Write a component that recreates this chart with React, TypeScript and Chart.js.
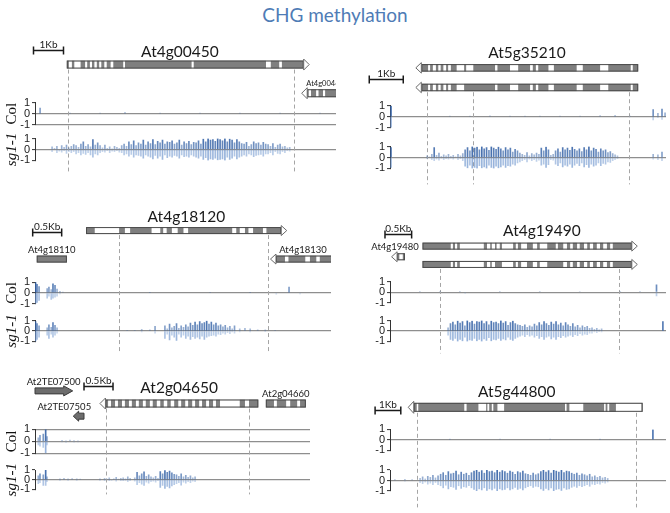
import React, { useEffect, useRef } from 'react';
import { Chart, registerables } from 'chart.js';

Chart.register(...registerables);

// ===================== DATA (x positions in kb from the left edge of each track) =====================

// ---- Panel 1: At4g00450 ----
const W_At4g00450 = [[1.13, 1.23], [1.31, 1.52], [1.67, 1.74], [1.83, 1.9], [1.98, 2.06], [2.14, 2.21], [2.31, 2.39], [2.52, 2.61], [2.94, 3.0], [5.22, 5.29], [7.7, 7.86], [8.14, 8.23]];
const W_At4g00460 = [[9.12, 9.2], [9.37, 9.45], [9.6, 9.67]];
const P1_DASHES = [1.09, 8.63];
const P1_COL_X = [0.17, 1.17, 2.17, 3.0, 4.17, 5.5, 6.83, 8.17, 9.5];
const P1_COL_UP = [0.5, 0.05, 0.04, 0.12, 0.05, 0.04, 0.05, 0.04, 0.05];
const P1_COL_DN = [0, 0, 0, 0, 0, 0, 0, 0, 0];
const P1_SG_START = 0.57;
const P1_SG_STEP = 0.08;
const P1_SG_UP = [
  0.25, 0.1, 0.3, 0, 0.35, 0.2, 0.4, 0.15, 0.3, 0.45,
  0.35, 0.2, 0.5, 0.7, 0.3, 0.45, 0.25, 0.9, 0.4, 0.6,
  0.35, 0.15, 0.4, 0.1, 0.25, 0.05, 0.3, 0.2, 0.1, 0.35,
  0.5, 0.3, 0.7, 0.45, 0.8, 0.35, 0.6, 0.5, 0.85, 0.4,
  0.7, 0.55, 0.9, 0.45, 0.75, 0.6, 0.85, 0.5, 0.7, 0.65,
  0.8, 0.5, 0.6, 0.85, 0.4, 0.7, 0.55, 0.75, 0.45, 0.65,
  0.6, 0.8, 0.5, 0.95, 0.7, 1, 0.85, 0.9, 0.75, 1,
  0.9, 0.8, 1, 0.7, 0.95, 0.85, 0.6, 0.9, 0.7, 0.55,
  0.5, 0.65, 0.3, 0.45, 0.7, 0.55, 0.6, 0.4, 0.65, 0.5,
  0.45, 0.3, 0.55, 0.2, 0.4, 0.5, 0.25, 0.3, 0.15, 0.2,
];
const P1_SG_DN = [
  -0.2, 0, -0.3, -0.15, -0.25, -0.1, -0.35, -0.2, -0.3, -0.2,
  -0.4, -0.3, -0.5, -0.35, -0.45, -0.3, -0.5, -0.7, -0.4, -0.5,
  -0.3, -0.2, -0.25, -0.1, -0.3, -0.15, -0.2, -0.1, -0.25, -0.3,
  -0.5, -0.4, -0.6, -0.45, -0.7, -0.5, -0.55, -0.6, -0.8, -0.5,
  -0.6, -0.7, -0.85, -0.55, -0.8, -0.6, -0.9, -0.5, -0.75, -0.6,
  -0.7, -0.55, -0.6, -0.8, -0.5, -0.65, -0.6, -0.7, -0.5, -0.6,
  -0.7, -0.8, -0.6, -0.9, -0.75, -1, -0.85, -0.9, -0.8, -0.95,
  -0.9, -0.85, -1, -0.7, -0.9, -0.8, -0.6, -0.85, -0.7, -0.6,
  -0.5, -0.6, -0.4, -0.5, -0.65, -0.55, -0.5, -0.45, -0.6, -0.4,
  -0.4, -0.3, -0.5, -0.2, -0.35, -0.4, -0.2, -0.3, -0.1, -0.15,
];

// ---- Panel 2: At5g35210 ----
const W_At5g35210_a = [[1.12, 1.18], [1.26, 1.35], [1.42, 1.49], [1.57, 1.65], [1.71, 1.79], [1.96, 2.18], [2.24, 2.45], [3.09, 3.16], [3.53, 3.77], [4.12, 4.2], [4.29, 4.36], [4.66, 4.82], [5.49, 5.67], [6.18, 6.42], [7.08, 7.14]];
const W_At5g35210_b = [[1.12, 1.18], [1.26, 1.35], [1.42, 1.49], [1.57, 1.65], [1.71, 1.79], [1.96, 2.18], [3.09, 3.16], [3.53, 3.77], [4.12, 4.2], [4.29, 4.36], [4.66, 4.82], [5.49, 5.67], [6.18, 6.42], [7.08, 7.14]];
const P2_DASHES = [1.1, 2.45, 7.02];
const P2_COL_X = [0.03, 1.76, 2.35, 2.94, 3.53, 3.97, 4.41, 5.0, 5.59, 6.18, 6.62, 7.06, 7.74, 7.88, 8.0, 8.09];
const P2_COL_UP = [1, 0.05, 0.04, 0.08, 0.06, 0.04, 0.05, 0.06, 0.05, 0.1, 0.12, 0.05, 0.65, 0.3, 0.7, 0.35];
const P2_COL_DN = [-1, 0, 0, 0, 0, 0, 0, 0, 0, 0, 0, 0, -0.3, -0.1, -0.25, 0];
const P2_SG_X = [0.03, 7.74, 7.88, 8.0];
const P2_SG_XUP = [0.9, 0.3, 0.25, 0.5];
const P2_SG_XDN = [-0.9, -0.15, -0.2, -0.3];
const P2_SG_START = 1.09;
const P2_SG_STEP = 0.07;
const P2_SG_UP = [
  0.15, 0.05, 0.3, 0.9, 0.2, 0.4, 0.1, 0.25, 0.15, 0.3,
  0.1, 0.2, 0.05, 0.3, 0.15, 0.35,
  0.7, 0.9, 0.6, 1, 0.85, 0.95, 0.7, 1, 0.8, 0.9,
  0.65, 1, 0.85, 0.75, 0.95, 0.8, 0.6, 0.9, 0.7, 0.85,
  0.5, 0.75, 0.6, 0.4,
  0.3, 0.2, 0.45, 0.15, 0.35, 0.25, 0.4, 0.3,
  0.85, 0.6, 0.95, 0.7,
  0.2, 0.3,
  0.6, 0.8, 0.5, 0.9, 0.7, 0.85, 0.65, 0.95, 0.75, 0.6,
  0.8, 0.55, 0.9, 0.7, 1, 0.6, 0.85, 0.75, 0.5, 0.8,
  0.6, 0.7, 0.45, 0.55, 0.35, 0.25, 0.15,
];
const P2_SG_DN = [
  -0.1, 0, -0.2, -0.3, -0.15, -0.25, -0.05, -0.2, -0.1, -0.15,
  -0.05, -0.15, 0, -0.2, -0.1, -0.3,
  -0.8, -0.95, -0.7, -1, -0.9, -1, -0.75, -0.95, -0.85, -1,
  -0.7, -0.9, -1, -0.8, -0.95, -0.85, -0.7, -0.9, -0.75, -0.8,
  -0.6, -0.7, -0.5, -0.4,
  -0.3, -0.2, -0.4, -0.15, -0.3, -0.2, -0.35, -0.25,
  -0.7, -0.6, -0.9, -0.65,
  -0.2, -0.25,
  -0.6, -0.75, -0.5, -0.85, -0.7, -0.8, -0.6, -0.9, -0.7, -0.55,
  -0.75, -0.5, -0.85, -0.65, -0.9, -0.6, -0.8, -0.7, -0.5, -0.75,
  -0.55, -0.6, -0.4, -0.45, -0.3, -0.2, -0.1,
];

// ---- Panel 3: At4g18120 ----
const W_At4g18120 = [[1.03, 1.45], [1.55, 1.64], [2.01, 2.16], [2.21, 2.27], [2.36, 2.46], [2.56, 2.64], [3.4, 3.47], [3.53, 3.62], [3.68, 3.76], [3.93, 3.99]];
const W_At4g18130 = [[4.31, 4.37], [4.66, 4.74], [4.85, 4.91]];
const P3_DASHES = [1.45, 4.02];
const P3_COL_X = [0.01, 0.035, 0.07, 0.21, 0.24, 0.28, 0.31, 0.345, 0.38, 0.43, 0.48, 1.98, 3.02, 3.71, 4.16, 4.38, 4.57];
const P3_COL_UP = [1, 0.8, 0.6, 0.4, 0.55, 0.3, 0.85, 0.7, 0.35, 0.15, 0.08, 0.03, 0.04, 0.03, 0, 0.55, 0];
const P3_COL_DN = [-1, -0.9, -0.7, -0.5, -0.3, -0.6, -0.5, -0.4, -0.3, -0.1, 0, 0, 0, 0, -0.12, 0, -0.1];
const P3_SG_X = [0.01, 0.035, 0.07, 0.21, 0.24, 0.28, 0.31, 0.345, 0.38, 1.59, 1.72, 1.84, 1.98, 2.07, 3.53, 3.62, 3.71, 3.84, 3.97, 4.14];
const P3_SG_XUP = [0.9, 0.7, 0.5, 0.3, 0.6, 0.35, 0.8, 0.55, 0.3, 0.05, 0.05, 0.15, 0.1, 0.45, 0.2, 0.25, 0.2, 0.1, 0.1, 0.05];
const P3_SG_XDN = [-1, -0.8, -0.6, -0.4, -0.7, -0.3, -0.6, -0.4, -0.2, 0, 0, -0.1, 0, -0.2, -0.1, 0, -0.1, 0, -0.05, 0];
const P3_SG_START = 2.24;
const P3_SG_STEP = 0.04;
const P3_SG_UP = [0.5, 0.2, 0.65, 0.3, 0.45, 0.7, 0.25, 0.5, 0.35, 0.6, 0.4, 0.75, 0.55, 0.85, 0.6, 0.9, 0.7, 0.8, 0.95, 0.65, 0.85, 0.6, 0.75, 0.5, 0.6, 0.4, 0.55, 0.3, 0.45, 0.2, 0.5];
const P3_SG_DN = [-0.7, -0.3, -0.85, -0.4, -0.6, -0.9, -0.3, -0.6, -0.4, -0.7, -0.5, -0.8, -0.55, -0.7, -0.6, -0.75, -0.5, -0.8, -0.6, -0.5, -0.45, -0.4, -0.5, -0.3, -0.35, -0.2, -0.3, -0.15, -0.25, -0.1, -0.2];

// ---- Panel 4: At4g19490 ----
const W_At4g19490_a = [[1.14, 1.18], [1.22, 1.26], [1.31, 1.76], [1.82, 1.88], [1.91, 1.97], [2.0, 2.06], [2.1, 2.31], [2.36, 2.4], [2.46, 2.57], [2.68, 2.76], [2.81, 2.95], [3.11, 3.15], [3.25, 3.32], [3.38, 3.43], [3.51, 3.56], [3.64, 3.7], [3.75, 3.81], [3.88, 3.94], [4.0, 4.07], [4.13, 4.18]];
const W_At4g19490_b = [[1.14, 1.18], [1.22, 1.26], [1.31, 1.76], [1.82, 1.88], [1.91, 1.97], [2.1, 2.31], [2.36, 2.4], [2.46, 2.57], [2.68, 2.76], [2.81, 2.95], [3.25, 3.32], [3.38, 3.43], [3.51, 3.56], [3.64, 3.7], [3.75, 3.81], [3.88, 3.94], [4.0, 4.07], [4.13, 4.18]];
const W_At4g19480 = [[0.175, 0.24]];
const P4_DASHES = [0.94, 4.3];
const P4_COL_X = [0.56, 0.94, 1.31, 1.41, 2.06, 2.81, 3.56, 4.32, 4.69, 5.0];
const P4_COL_UP = [0.05, 0.04, 0.08, 0, 0.05, 0.04, 0.06, 0.04, 0.05, 0.7];
const P4_COL_DN = [0, 0, 0, -0.1, 0, 0, 0, 0, 0, -0.35];
const P4_SG_X = [5.12];
const P4_SG_XUP = [0.9];
const P4_SG_XDN = [0];
const P4_SG_START = 1.09;
const P4_SG_STEP = 0.045;
const P4_SG_UP = [
  0.3, 0.7, 0.85, 0.6, 0.95, 0.75, 0.9, 0.5, 1, 0.8,
  0.95, 0.65, 0.9, 0.85, 1, 0.7, 0.9, 0.6, 0.95, 0.8,
  0.85, 0.7, 1, 0.75, 0.9, 0.55, 0.8, 0.95, 0.7, 0.6,
  0.55, 0.45, 0.6, 0.35, 0.5, 0.4, 0.65, 0.5,
  0.8, 0.6, 0.9, 0.7, 0.55, 0.85, 0.65, 0.9, 0.6, 0.75,
  0.5, 0.8, 0.6, 0.45, 0.7,
  0.4, 0.55, 0.3, 0.5, 0.35, 0.45, 0.25,
  0.3, 0.15, 0.25, 0.1, 0.2,
];
const P4_SG_DN = [
  -0.4, -0.8, -0.9, -0.7, -1, -0.8, -0.95, -0.6, -1, -0.85,
  -0.9, -0.7, -0.95, -0.8, -1, -0.75, -0.9, -0.65, -0.95, -0.8,
  -0.85, -0.7, -0.9, -0.75, -0.85, -0.6, -0.8, -0.9, -0.7, -0.6,
  -0.5, -0.4, -0.55, -0.35, -0.5, -0.4, -0.6, -0.45,
  -0.7, -0.55, -0.8, -0.6, -0.5, -0.75, -0.6, -0.8, -0.55, -0.65,
  -0.45, -0.6, -0.5, -0.4, -0.55,
  -0.35, -0.45, -0.25, -0.4, -0.3, -0.35, -0.2,
  -0.2, -0.1, -0.15, -0.05, -0.1,
];

// ---- Panel 5: At2g04650 ----
const W_At2g04650 = [[1.26, 1.31], [1.38, 1.43], [1.5, 1.55], [1.62, 1.67], [1.74, 1.79], [1.86, 1.91], [1.98, 2.03], [2.1, 2.16], [2.22, 2.28], [2.34, 2.4], [2.47, 2.52], [2.59, 2.64], [2.71, 2.76], [2.83, 2.88], [2.95, 3.0], [3.07, 3.12], [3.19, 3.53], [3.62, 3.69]];
const W_At2g04660 = [[4.12, 4.17], [4.33, 4.4], [4.52, 4.57]];
const P5_DASHES = [1.22, 3.69];
const P5_COL_X = [0.057, 0.086, 0.143, 0.184, 0.207, 0.466, 0.534, 0.603, 0.672, 0.741];
const P5_COL_UP = [0.3, 0.5, 0.6, 1, 0.4, 0.08, 0.05, 0.1, 0.06, 0.05];
const P5_COL_DN = [-0.3, -0.4, -0.5, -1, -0.3, -0.05, -0.08, 0, -0.06, -0.04];
const P5_SG_X = [0.057, 0.086, 0.143, 0.184, 0.207, 0.43, 0.5, 0.57, 0.64, 0.72, 0.78];
const P5_SG_XUP = [0.4, 0.6, 0.5, 1, 0.3, 0.1, 0.15, 0.08, 0.12, 0.1, 0.05];
const P5_SG_XDN = [-0.4, -0.3, -0.6, -0.6, -0.2, -0.05, 0, -0.05, 0, -0.03, 0];
const P5_SG_START = 1.12;
const P5_SG_STEP = 0.04;
const P5_SG_UP = [
  0.1, 0, 0.15, 0.05, 0.2, 0, 0.1, 0.25, 0.05, 0.15,
  0.2, 0.1, 0.3, 0.15, 0, 0.2,
  0.75, 0.4, 0.6, 0.8, 0.35, 0.5,
  0.3, 0.2, 0.35, 0.15,
  0.85, 0.6, 0.95, 0.75, 0.9, 0.7, 0.55,
  0.5, 0.35, 0.6, 0.3, 0.45,
  0.25, 0.4, 0.2, 0.3,
];
const P5_SG_DN = [
  -0.05, 0, -0.1, 0, -0.1, -0.05, 0, -0.15, 0, -0.1,
  -0.1, -0.05, -0.2, -0.1, 0, -0.15,
  -0.5, -0.3, -0.45, -0.6, -0.25, -0.35,
  -0.2, -0.15, -0.25, -0.1,
  -0.8, -0.6, -0.9, -0.7, -0.85, -0.65, -0.5,
  -0.4, -0.3, -0.55, -0.25, -0.35,
  -0.2, -0.3, -0.15, -0.2,
];

// ---- Panel 6: At5g44800 ----
const W_At5g44800 = [[1.04, 1.1], [2.89, 2.98], [3.44, 3.74], [3.79, 3.86], [3.96, 4.02], [4.18, 4.44], [6.81, 6.87], [6.98, 7.52], [8.33, 8.39], [8.46, 8.53], [8.79, 9.79]];
const P6_DASHES = [1.06, 9.56];
const P6_COL_X = [2.33, 4.28, 6.23, 8.17, 10.23];
const P6_COL_UP = [0.03, 0.04, 0.04, 0.03, 0.95];
const P6_COL_DN = [0, 0, 0, 0, 0];
const P6_SG_X = [0.19, 0.58, 0.86];
const P6_SG_XUP = [0.1, 0.12, 0.08];
const P6_SG_XDN = [0, -0.05, 0];
const P6_SG_START = 1.17;
const P6_SG_STEP = 0.1;
const P6_SG_UP = [
  0.2, 0.35, 0.15, 0.4, 0.3, 0.5, 0.25, 0.45,
  0.6, 0.75, 0.5, 0.85, 0.65, 0.7, 0.9, 0.55, 0.8, 0.6, 0.7, 0.5, 0.75,
  0.9, 1, 0.8, 0.95, 0.7, 1, 0.85, 0.9, 0.75, 1, 0.8, 0.95, 0.85, 0.7, 0.9, 0.8, 0.6, 0.85, 0.75, 0.9, 0.65,
  0.6, 0.5, 0.7, 0.55, 0.65,
  0.85, 1, 0.8, 0.95, 0.7, 1, 0.9, 0.8, 1, 0.75, 0.9, 0.85, 0.7,
  0.6, 0.7, 0.5, 0.65, 0.55, 0.45, 0.6,
  0.35, 0.45, 0.3, 0.4, 0.25, 0.3, 0.2,
];
const P6_SG_DN = [
  -0.2, -0.3, -0.15, -0.35, -0.25, -0.4, -0.2, -0.4,
  -0.5, -0.7, -0.45, -0.8, -0.6, -0.65, -0.85, -0.5, -0.75, -0.6, -0.65, -0.5, -0.7,
  -0.85, -1, -0.8, -0.9, -0.7, -0.95, -0.8, -0.9, -0.75, -1, -0.8, -0.9, -0.85, -0.7, -0.9, -0.8, -0.65, -0.85, -0.75, -0.9, -0.7,
  -0.6, -0.5, -0.65, -0.55, -0.6,
  -0.8, -0.95, -0.75, -0.9, -0.7, -1, -0.85, -0.8, -0.95, -0.7, -0.85, -0.8, -0.65,
  -0.55, -0.65, -0.5, -0.6, -0.5, -0.4, -0.55,
  -0.35, -0.4, -0.3, -0.35, -0.2, -0.25, -0.15,
];

// Genes: extents in kb (incl. arrow tip), strand, lane, white blocks
const P1_GENES = [
  { name: 'At4g00450', start: 1.06, end: 9.14, strand: '+', row: 0, whites: W_At4g00450, labelAt: 4.83 },
  { name: 'At4g00460', start: 8.89, end: 10.5, strand: '-', row: 1, whites: W_At4g00460, labelAt: 9.67 },
];
const P2_GENES = [
  { name: 'At5g35210', start: 0.76, end: 7.3, strand: '-', row: 0, whites: W_At5g35210_a },
  { name: 'At5g35210', start: 0.76, end: 7.3, strand: '-', row: 1, whites: W_At5g35210_b, noLabel: true },
];
const P3_GENES = [
  { name: 'At4g18120', start: 0.88, end: 4.34, strand: '+', row: 0, whites: W_At4g18120 },
  { name: 'At4g18110', start: 0.03, end: 0.55, strand: '', row: 1, whites: [] },
  { name: 'At4g18130', start: 4.06, end: 5.3, strand: '-', row: 1, whites: W_At4g18130, labelAt: 4.62 },
];
const P4_GENES = [
  { name: 'At4g19490', start: 0.61, end: 4.64, strand: '+', row: 0, whites: W_At4g19490_a, labelAt: 2.85 },
  { name: 'At4g19490', start: 0.61, end: 4.64, strand: '+', row: 1, whites: W_At4g19490_b, noLabel: true },
  { name: 'At4g19480', start: 0.03, end: 0.28, strand: '-', row: 0.58, whites: W_At4g19480, labelAt: 0.094 },
];
const P5_GENES = [
  { name: 'At2TE07500', start: 0.0, end: 0.65, strand: '+', row: 0, whites: [], kind: 'te', labelAt: 0.32 },
  { name: 'At2g04650', start: 1.12, end: 3.85, strand: '-', row: 1, whites: W_At2g04650 },
  { name: 'At2g04660', start: 3.98, end: 4.67, strand: '', row: 1, whites: W_At2g04660 },
  { name: 'At2TE07505', start: 0.66, end: 0.845, strand: '-', row: 2, whites: [], kind: 'te', labelAt: 0.505 },
];
const P6_GENES = [
  { name: 'At5g44800', start: 0.71, end: 9.83, strand: '-', row: 0, whites: W_At5g44800, labelAt: 4.93 },
];

// ===================== LAYOUT / STYLE =====================
const PAD_T = 10;
const PAD_B = 8;
const AXIS_W = 35;
const LABEL_SIZE: Record<string, number> = { At4g00460: 7.5 };

const PANELS = [
  {
    left: 0, top: 30, width: 336, pxKb: 30, seg: [73, 22, 14, 22, 11], geneMin: -1.205, geneMax: 1.33, boxH: 8, lblGap: 3.5,
    titles: true, main: 'At4g00450', colLines: [0, -1], genes: P1_GENES, dashes: P1_DASHES, dashRow: 0,
    scaleBar: { start: -0.05, len: 1, label: '1Kb', row: -0.51 },
    col: { x: P1_COL_X, up: P1_COL_UP, dn: P1_COL_DN },
    sg: { start: P1_SG_START, step: P1_SG_STEP, up: P1_SG_UP, dn: P1_SG_DN },
  },
  {
    left: 355, top: 30, width: 311, pxKb: 34, seg: [76, 22, 19, 22, 16], geneMin: -1.929, geneMax: 1.929, boxH: 7.5, lblGap: 6.5,
    titles: false, main: 'At5g35210', colLines: [0], genes: P2_GENES, dashes: P2_DASHES, dashRow: 1,
    scaleBar: { start: -0.61, len: 1, label: '1Kb', row: 0.59 },
    col: { x: P2_COL_X, up: P2_COL_UP, dn: P2_COL_DN },
    sg: { start: P2_SG_START, step: P2_SG_STEP, up: P2_SG_UP, dn: P2_SG_DN, x: P2_SG_X, xup: P2_SG_XUP, xdn: P2_SG_XDN },
  },
  {
    left: 0, top: 200, width: 331, pxKb: 58, seg: [82.5, 21.5, 17, 21, 10], geneMin: -1.073, geneMax: 1.811, boxH: 7, lblGap: 5,
    titles: true, main: 'At4g18120', colLines: [0], genes: P3_GENES, dashes: P3_DASHES, dashRow: 0,
    scaleBar: { start: -0.04, len: 0.5, label: '0.5Kb', row: 0.035 },
    col: { x: P3_COL_X, up: P3_COL_UP, dn: P3_COL_DN },
    sg: { start: P3_SG_START, step: P3_SG_STEP, up: P3_SG_UP, dn: P3_SG_DN, x: P3_SG_X, xup: P3_SG_XUP, xdn: P3_SG_XDN },
  },
  {
    left: 355, top: 200, width: 311, pxKb: 53.3, seg: [82, 21, 18, 21, 12], geneMin: -2.516, geneMax: 1.94, boxH: 7, lblGap: 7,
    titles: false, main: 'At4g19490', colLines: [0], genes: P4_GENES, dashes: P4_DASHES, dashRow: 1,
    scaleBar: { start: -0.094, len: 0.5, label: '0.5Kb', row: -0.65 },
    col: { x: P4_COL_X, up: P4_COL_UP, dn: P4_COL_DN },
    sg: { start: P4_SG_START, step: P4_SG_STEP, up: P4_SG_UP, dn: P4_SG_DN, x: P4_SG_X, xup: P4_SG_XUP, xdn: P4_SG_XDN },
  },
  {
    left: 0, top: 365, width: 310, pxKb: 58, seg: [64.7, 24, 16.8, 19.5, 5], geneMin: -2.047, geneMax: 3.047, boxH: 8, lblGap: 7,
    titles: true, main: 'At2g04650', colLines: [1, 0, -1], genes: P5_GENES, dashes: P5_DASHES, dashRow: 1,
    scaleBar: { start: 0.845, len: 0.5, label: '0.5Kb', row: -0.37 },
    col: { x: P5_COL_X, up: P5_COL_UP, dn: P5_COL_DN },
    sg: { start: P5_SG_START, step: P5_SG_STEP, up: P5_SG_UP, dn: P5_SG_DN, x: P5_SG_X, xup: P5_SG_XUP, xdn: P5_SG_XDN },
  },
  {
    left: 355, top: 365, width: 311, pxKb: 25.7, seg: [64.5, 21, 20, 21, 16.5], geneMin: -2.125, geneMax: 1.1, boxH: 9, lblGap: 6,
    titles: false, main: 'At5g44800', colLines: [0], genes: P6_GENES, dashes: P6_DASHES, dashRow: 0,
    scaleBar: { start: -0.58, len: 1, label: '1Kb', row: 0.11 },
    col: { x: P6_COL_X, up: P6_COL_UP, dn: P6_COL_DN },
    sg: { start: P6_SG_START, step: P6_SG_STEP, up: P6_SG_UP, dn: P6_SG_DN, x: P6_SG_X, xup: P6_SG_XUP, xdn: P6_SG_XDN },
  },
];

const SANS = 'Lato, "Open Sans", sans-serif';
const HEAD = 5.5;

// ===================== HELPERS =====================
function binPoints(start: number, step: number, ys: number[]) {
  const out: { x: number; y: number }[] = [];
  ys.forEach((y, i) => { if (y !== 0) out.push({ x: start + i * step, y }); });
  return out;
}
function listPoints(xs: number[] | undefined, ys: number[] | undefined) {
  const out: { x: number; y: number }[] = [];
  if (!xs || !ys) return out;
  xs.forEach((x, i) => { if (ys[i] !== 0) out.push({ x, y: ys[i] }); });
  return out;
}

const upColor = (c: any) => {
  const v = Math.min(1, Math.abs(c.raw ? c.raw.y : 0));
  return `rgba(52, 98, 166, ${(0.3 + 0.6 * v).toFixed(2)})`;
};
const dnColor = (c: any) => {
  const v = Math.min(1, Math.abs(c.raw ? c.raw.y : 0));
  return `rgba(105, 146, 204, ${(0.28 + 0.42 * v).toFixed(2)})`;
};

function barSet(data: any[], axis: string, color: any) {
  return {
    type: 'bar', data, xAxisID: 'x', yAxisID: axis, barThickness: 1, grouped: false,
    backgroundColor: color, borderWidth: 0,
  };
}

function trackAxis(title: string | null, italic: boolean, weight: number, lines: number[]) {
  return {
    type: 'linear', position: 'left', stack: 'panel', stackWeight: weight,
    min: -1, max: 1,
    afterFit: (s: any) => { s.width = AXIS_W; },
    ticks: { stepSize: 1, autoSkip: false, padding: 2, color: '#222', font: { family: '"Liberation Sans", Arial, sans-serif', size: 11 } },
    grid: {
      color: (c: any) => (c.tick && lines.includes(c.tick.value) ? '#8e8e8e' : 'rgba(0,0,0,0)'),
      lineWidth: 1.2, tickColor: '#333', tickLength: 3, tickWidth: 1, drawTicks: true,
    },
    border: { display: true, color: '#333', width: 1 },
    title: title
      ? { display: true, text: title, color: '#111', padding: { top: 3, bottom: 0 }, font: { family: '"Liberation Serif", "DejaVu Serif", serif', size: 15, style: italic ? 'italic' : 'normal' } }
      : { display: false },
  };
}
function spacer(weight: number) {
  return { type: 'linear', position: 'left', stack: 'panel', stackWeight: weight, display: false, min: 0, max: 1 };
}

function drawGene(ctx: CanvasRenderingContext2D, g: any, xs: any, gs: any, boxH: number) {
  const x0 = xs.getPixelForValue(g.start);
  const x1 = xs.getPixelForValue(g.end);
  const cy = gs.getPixelForValue(g.row);
  ctx.lineWidth = 1;
  ctx.setLineDash([]);
  if (g.kind === 'te') {
    const bh = 6, hh = 10, hw = Math.min(9, (x1 - x0) * 0.5);
    ctx.beginPath();
    if (g.strand === '+') {
      ctx.moveTo(x0, cy - bh / 2); ctx.lineTo(x1 - hw, cy - bh / 2); ctx.lineTo(x1 - hw, cy - hh / 2);
      ctx.lineTo(x1, cy); ctx.lineTo(x1 - hw, cy + hh / 2); ctx.lineTo(x1 - hw, cy + bh / 2); ctx.lineTo(x0, cy + bh / 2);
    } else {
      ctx.moveTo(x1, cy - bh / 2); ctx.lineTo(x0 + hw, cy - bh / 2); ctx.lineTo(x0 + hw, cy - hh / 2);
      ctx.lineTo(x0, cy); ctx.lineTo(x0 + hw, cy + hh / 2); ctx.lineTo(x0 + hw, cy + bh / 2); ctx.lineTo(x1, cy + bh / 2);
    }
    ctx.closePath();
    ctx.fillStyle = '#6d6d6d'; ctx.fill();
    ctx.strokeStyle = '#3a3a3a'; ctx.stroke();
    return;
  }
  let b0 = x0, b1 = x1;
  if (g.strand === '+') b1 = x1 - HEAD;
  if (g.strand === '-') b0 = x0 + HEAD;
  const top = cy - boxH / 2;
  ctx.fillStyle = '#7f7f7f';
  ctx.fillRect(b0, top, b1 - b0, boxH);
  ctx.fillStyle = '#ffffff';
  for (const w of g.whites) {
    const a = xs.getPixelForValue(w[0]);
    const b = xs.getPixelForValue(w[1]);
    ctx.fillRect(a, top, b - a, boxH);
  }
  ctx.strokeStyle = '#4a4a4a';
  ctx.strokeRect(b0 + 0.5, top + 0.5, b1 - b0 - 1, boxH - 1);
  if (g.strand) {
    const hh = boxH / 2 + 1.5;
    ctx.beginPath();
    if (g.strand === '+') { ctx.moveTo(b1, cy - hh); ctx.lineTo(x1, cy); ctx.lineTo(b1, cy + hh); }
    else { ctx.moveTo(b0, cy - hh); ctx.lineTo(x0, cy); ctx.lineTo(b0, cy + hh); }
    ctx.closePath();
    ctx.fillStyle = '#ffffff'; ctx.fill();
    ctx.strokeStyle = '#6a6a6a'; ctx.stroke();
  }
}

function makeOverlay(p: any) {
  return {
    id: 'geneOverlay',
    beforeDatasetsDraw(chart: any) {
      const { ctx, chartArea } = chart;
      const xs = chart.scales.x, gs = chart.scales.yGene;
      ctx.save();
      ctx.strokeStyle = '#a5a5a5'; ctx.lineWidth = 1; ctx.setLineDash([4, 3]);
      const y0 = gs.getPixelForValue(p.dashRow) + p.boxH / 2 + 1;
      for (const d of p.dashes) {
        const x = Math.round(xs.getPixelForValue(d)) + 0.5;
        ctx.beginPath(); ctx.moveTo(x, y0); ctx.lineTo(x, chartArea.bottom); ctx.stroke();
      }
      ctx.restore();
    },
    afterDraw(chart: any) {
      const { ctx } = chart;
      const xs = chart.scales.x, gs = chart.scales.yGene;
      ctx.save();
      for (const g of p.genes) drawGene(ctx, g, xs, gs, p.boxH);
      ctx.fillStyle = '#1a1a1a';
      ctx.textAlign = 'center';
      ctx.textBaseline = 'alphabetic';
      for (const g of p.genes) {
        if (g.noLabel) continue;
        const isMain = g.name === p.main;
        const size = LABEL_SIZE[g.name] || (isMain ? 15.5 : 9.5);
        ctx.font = `${size}px ${SANS}`;
        const lx = xs.getPixelForValue(g.labelAt !== undefined ? g.labelAt : (g.start + g.end) / 2);
        const cy = gs.getPixelForValue(g.row);
        const half = g.kind === 'te' ? 3 : p.boxH / 2;
        ctx.fillText(g.name, lx, cy - half - (isMain ? p.lblGap : 3));
      }
      // scale bar
      const sb = p.scaleBar;
      const xa = xs.getPixelForValue(sb.start), xb = xs.getPixelForValue(sb.start + sb.len);
      const y = Math.round(gs.getPixelForValue(sb.row)) + 0.5;
      ctx.strokeStyle = '#1a1a1a'; ctx.lineWidth = 1.5; ctx.setLineDash([]);
      ctx.beginPath();
      ctx.moveTo(xa, y); ctx.lineTo(xb, y);
      ctx.moveTo(xa, y - 4); ctx.lineTo(xa, y + 4);
      ctx.moveTo(xb, y - 4); ctx.lineTo(xb, y + 4);
      ctx.stroke();
      ctx.font = `10px ${SANS}`;
      ctx.fillText(sb.label, (xa + xb) / 2, y - 3);
      ctx.restore();
    },
  };
}

function makeConfig(p: any): any {
  const [gene, col, gap, sg, bot] = p.seg;
  const colUp = listPoints(p.col.x, p.col.up);
  const colDn = listPoints(p.col.x, p.col.dn);
  const sgUp = [...binPoints(p.sg.start, p.sg.step, p.sg.up), ...listPoints(p.sg.x, p.sg.xup)];
  const sgDn = [...binPoints(p.sg.start, p.sg.step, p.sg.dn), ...listPoints(p.sg.x, p.sg.xdn)];
  return {
    type: 'bar',
    data: {
      datasets: [
        barSet(colDn, 'yCol', dnColor),
        barSet(colUp, 'yCol', upColor),
        barSet(sgDn, 'ySg', dnColor),
        barSet(sgUp, 'ySg', upColor),
      ],
    },
    options: {
      animation: false,
      responsive: false,
      maintainAspectRatio: false,
      events: [],
      layout: { padding: { top: PAD_T, bottom: PAD_B, left: 0, right: 0 } },
      plugins: { legend: { display: false }, tooltip: { enabled: false }, title: { display: false } },
      scales: {
        x: { type: 'linear', min: 0, max: (p.width - AXIS_W) / p.pxKb, display: false, offset: false },
        yBot: spacer(bot),
        ySg: trackAxis(p.titles ? 'sg1-1' : null, true, sg, [0]),
        yGap: spacer(gap),
        yCol: trackAxis(p.titles ? 'Col' : null, false, col, p.colLines),
        yGene: { type: 'linear', position: 'left', stack: 'panel', stackWeight: gene, display: false, min: p.geneMin, max: p.geneMax, reverse: true },
      },
    },
    plugins: [makeOverlay(p)],
  };
}

export default function App() {
  const refs = useRef<(HTMLCanvasElement | null)[]>([]);
  useEffect(() => {
    const charts = PANELS.map((p, i) => new Chart(refs.current[i] as HTMLCanvasElement, makeConfig(p)));
    return () => charts.forEach((c) => c.destroy());
  }, []);
  return (
    <div style={{ position: 'absolute', left: 0, top: 0, width: 670, height: 513, overflow: 'hidden', background: '#ffffff' }}>
      <div style={{ position: 'absolute', left: 0, top: 2, width: 670, textAlign: 'center', fontFamily: SANS, fontSize: 19, lineHeight: '25px', color: '#4f7cb6' }}>
        CHG methylation
      </div>
      {PANELS.map((p, i) => {
        const h = p.seg.reduce((a, b) => a + b, 0) + PAD_T + PAD_B;
        return (
          <canvas
            key={i}
            ref={(el) => { refs.current[i] = el; }}
            width={p.width}
            height={h}
            style={{ position: 'absolute', left: p.left, top: p.top - PAD_T, width: p.width, height: h }}
          />
        );
      })}
    </div>
  );
}
